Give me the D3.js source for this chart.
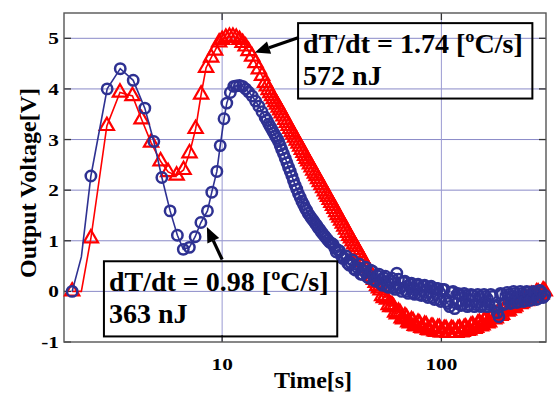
<!DOCTYPE html>
<html>
<head>
<meta charset="utf-8">
<script src="https://cdn.jsdelivr.net/npm/d3@7"></script>
<style>
  html, body { margin: 0; padding: 0; background: #fff; }
  svg { display: block; }
</style>
</head>
<body>
<svg id="chart" width="554" height="396"></svg>
<script>
// ---------------- DATA ----------------
const yTicks = [-1, 0, 1, 2, 3, 4, 5];
const yTickLabels = ["-1", "0", "1", "2", "3", "4", "5"];
const xTicks = [10, 100];
const xTickLabels = ["10", "100"];

// sparse early samples (time [s], output voltage [V])
const blueEarlyTime = [2.07, 2.52, 2.99, 3.43, 3.93, 4.44, 4.88, 5.31, 5.79, 6.25, 6.65, 7.09, 7.53, 8.0, 8.57, 8.97, 9.46, 9.8, 10.2, 10.5, 10.9, 11.3];
const blueEarlyV    = [0.0, 2.28, 4.0, 4.4, 4.17, 3.62, 2.96, 2.25, 1.59, 1.11, 0.83, 0.87, 1.08, 1.36, 1.59, 1.96, 2.37, 2.88, 3.41, 3.72, 3.93, 4.05];
const redEarlyTime  = [2.07, 2.52, 2.98, 3.42, 3.9, 4.29, 4.74, 5.24, 5.67, 6.2, 6.67, 7.1, 7.57, 8.02, 8.45, 8.91, 9.29, 9.69];
const redEarlyV     = [0.0, 1.05, 3.27, 3.93, 3.86, 3.40, 2.94, 2.57, 2.36, 2.29, 2.40, 2.73, 3.21, 3.89, 4.42, 4.62, 4.76, 4.92];

// line-only samples (no marker drawn)
const blueLineOnlyTime = [2.28];
const blueLineOnlyV    = [0.68];
const redLineOnlyTime  = [2.28];
const redLineOnlyV     = [0.0];

// dense samples, set A
const denseTime = [10.0, 10.4, 10.8, 11.2, 11.6, 12.0, 12.4, 12.8, 13.2, 13.7, 14.2, 14.7, 15.2, 15.7, 16.3, 16.9, 17.5, 18.1, 18.7, 19.4,
  20.1, 20.8, 21.5, 22.3, 23.1, 23.9, 24.7, 25.6, 26.5, 27.4, 28.4, 29.4, 30.4, 31.5, 32.6, 33.7, 34.9, 36.1, 37.4, 38.7,
  40, 41.4, 42.9, 44.4, 46, 47.6, 49.3, 51, 52.8, 54.6, 56.5, 58.5, 60.5, 62.6, 64.8, 67, 69.4, 71.8, 74.3, 76.9,
  79.6, 82.4, 85.3, 88.3, 91.4, 94.6, 97.9, 101, 105, 109, 113, 117, 121, 125, 129, 134, 139, 144, 149, 154,
  159, 165, 171, 177, 183, 189, 196, 203, 210, 217, 225, 233, 241, 249, 258, 267, 276, 286, 296];
const redDenseV = [4.97, 5.01, 5.03, 5.03, 5.01, 4.97, 4.91, 4.84, 4.75, 4.64, 4.51, 4.39, 4.26, 4.12, 3.98, 3.86, 3.74, 3.63, 3.52, 3.39,
  3.27, 3.15, 3.04, 2.92, 2.80, 2.68, 2.57, 2.45, 2.33, 2.22, 2.10, 1.98, 1.87, 1.75, 1.63, 1.51, 1.40, 1.28, 1.16, 1.05,
  0.93, 0.82, 0.70, 0.58, 0.46, 0.35, 0.23, 0.11, 0.02, -0.13, -0.16, -0.31, -0.31, -0.45, -0.43, -0.55, -0.52, -0.63, -0.59, -0.69,
  -0.64, -0.73, -0.67, -0.77, -0.70, -0.80, -0.72, -0.81, -0.74, -0.82, -0.75, -0.82, -0.73, -0.80, -0.71, -0.77, -0.67, -0.72, -0.62, -0.67,
  -0.56, -0.61, -0.49, -0.53, -0.41, -0.46, -0.34, -0.38, -0.26, -0.30, -0.19, -0.23, -0.12, -0.16, -0.07, -0.10, -0.02, -0.06, 0.0];
const blueDenseV = [null, null, null, null, 4.06, 4.07, 4.05, 4.00, 3.94, 3.86, 3.76, 3.66, 3.55, 3.44, 3.31, 3.19, 3.07, 2.96, 2.80, 2.63,
  2.45, 2.28, 2.10, 1.93, 1.78, 1.65, 1.54, 1.44, 1.35, 1.26, 1.17, 1.09, 1.01, 0.95, 0.86, 0.82, 0.71, 0.66, 0.55, 0.56,
  0.44, 0.47, 0.34, 0.40, 0.28, 0.42, 0.22, 0.31, 0.16, 0.27, 0.10, 0.22, 0.08, 0.36, 0.06, 0.18, 0.00, 0.14, -0.03, 0.12,
  -0.06, 0.10, -0.08, 0.08, -0.12, 0.06, -0.16, 0.04, -0.20, -0.30, 0.00, -0.24, -0.06, -0.26, -0.08, -0.27, -0.08, -0.26, -0.10, -0.27,
  -0.10, -0.26, -0.10, -0.28, -0.50, -0.06, -0.24, -0.06, -0.22, -0.04, -0.20, -0.04, -0.18, -0.02, -0.16, -0.02, -0.14, -0.02, -0.08];

// dense samples, set B (in between set A, from 16 s on)
const denseTimeB = [16.0, 16.6, 17.2, 17.8, 18.4, 19.05, 19.75,
  20.45, 21.15, 21.9, 22.7, 23.5, 24.3, 25.15, 26.05, 26.95, 27.9, 28.9, 29.9, 30.95, 32.05, 33.15, 34.3, 35.5, 36.75, 38.05, 39.35,
  40.7, 42.15, 43.65, 45.2, 46.8, 48.45, 50.15, 51.9, 53.7, 55.55, 57.5, 59.5, 61.55, 63.7, 65.9, 68.2, 70.6, 73.05, 75.6, 78.25,
  81.0, 83.85, 86.8, 89.85, 93.0, 96.25, 99.45, 103, 107, 111, 115, 119, 123, 127, 131.5, 136.5, 141.5, 146.5, 151.5, 156.5,
  162, 168, 174, 180, 186, 192.5, 199.5, 206.5, 213.5, 221, 229, 237, 245, 253.5, 262.5, 271.5, 281, 291];
const redDenseVB = [4.05, 3.92, 3.80, 3.69, 3.58, 3.46, 3.33,
  3.21, 3.10, 2.98, 2.86, 2.74, 2.62, 2.51, 2.39, 2.28, 2.16, 2.04, 1.92, 1.81, 1.69, 1.57, 1.46, 1.34, 1.22, 1.10, 0.99,
  0.88, 0.76, 0.64, 0.52, 0.40, 0.29, 0.17, 0.06, -0.09, -0.10, -0.27, -0.27, -0.42, -0.40, -0.53, -0.49, -0.61, -0.57, -0.68, -0.62,
  -0.72, -0.66, -0.76, -0.70, -0.79, -0.72, -0.81, -0.74, -0.82, -0.74, -0.82, -0.74, -0.81, -0.72, -0.78, -0.68, -0.74, -0.64, -0.69, -0.58,
  -0.63, -0.51, -0.55, -0.43, -0.48, -0.36, -0.40, -0.28, -0.33, -0.21, -0.25, -0.14, -0.19, -0.08, -0.13, -0.02, -0.08, 0.02];
const blueDenseVB = [3.38, 3.25, 3.13, 3.02, 2.88, 2.72, 2.54,
  2.37, 2.19, 2.02, 1.86, 1.72, 1.60, 1.49, 1.40, 1.31, 1.22, 1.13, 1.05, 0.97, 0.93, 0.78, 0.80, 0.65, 0.70, 0.52, 0.62,
  0.42, 0.54, 0.34, 0.48, 0.26, 0.40, 0.20, 0.34, 0.12, 0.30, 0.08, 0.26, 0.04, 0.24, 0.0, 0.20, -0.04, 0.16, -0.06, 0.14,
  -0.08, 0.12, -0.12, 0.10, -0.16, 0.06, -0.20, 0.04, -0.24, -0.02, -0.34, -0.04, -0.28, -0.04, -0.30, -0.06, -0.30, -0.06, -0.30, -0.06,
  -0.30, -0.06, -0.30, -0.42, -0.04, -0.26, -0.02, -0.24, 0.0, -0.22, 0.0, -0.20, 0.0, -0.18, 0.0, -0.16, 0.02, -0.12];

const ann1Lines = ["dT/dt = 1.74 [ºC/s]", "572 nJ"];
const ann2Lines = ["dT/dt = 0.98 [ºC/s]", "363 nJ"];
// annotation geometry in data units (time, voltage)
const ann1Box = {t0: 22.2, t1: 260, v0: 5.30, v1: 3.81};
const ann2Box = {t0: 2.89, t1: 33.5, v0: 0.595, v1: -0.89};
const ann1Arrow = {from: [22.2, 5.01], to: [14.1, 4.72]};
const ann2Arrow = {from: [10.0, 0.63], to: [8.52, 1.27]};

const blueColor = "#2e3192";
const redColor = "#ff0000";
const FONT = "'Liberation Serif', 'DejaVu Serif', 'Times New Roman', Times, serif";

// ---------------- CHART ----------------
const svg = d3.select("#chart");
const plot = {left: 64, right: 546, top: 13, bottom: 342};
const x = d3.scaleLog().domain([1.9, 300]).range([plot.left, plot.right]);
const y = d3.scaleLinear().domain([-1, 5.5]).range([plot.bottom, plot.top]);

function txt(sel) {
  return sel.attr("font-family", FONT).attr("font-weight", "bold").attr("fill", "#000");
}

// grid lines
const grid = svg.append("g");
grid.selectAll("line.hy").data(yTicks.filter(v => v > -1)).join("line")
  .attr("x1", plot.left).attr("x2", plot.right)
  .attr("y1", d => y(d)).attr("y2", d => y(d))
  .attr("stroke", "#8a8ac8").attr("stroke-width", 1);
grid.selectAll("line.vx").data(xTicks).join("line")
  .attr("x1", d => x(d)).attr("x2", d => x(d))
  .attr("y1", plot.top).attr("y2", plot.bottom)
  .attr("stroke", "#9a9ad2").attr("stroke-width", 1);

// tick marks (inside)
const tickG = svg.append("g").attr("stroke", "#333").attr("stroke-width", 1.3);
yTicks.forEach(v => {
  tickG.append("line").attr("x1", plot.left).attr("x2", plot.left + 7).attr("y1", y(v)).attr("y2", y(v));
  tickG.append("line").attr("x1", plot.right).attr("x2", plot.right - 7).attr("y1", y(v)).attr("y2", y(v));
});
xTicks.forEach(v => {
  tickG.append("line").attr("x1", x(v)).attr("x2", x(v)).attr("y1", plot.top).attr("y2", plot.top + 7);
  tickG.append("line").attr("x1", x(v)).attr("x2", x(v)).attr("y1", plot.bottom).attr("y2", plot.bottom - 7);
});

// frame
svg.append("rect").attr("x", plot.left).attr("y", plot.top)
  .attr("width", plot.right - plot.left).attr("height", plot.bottom - plot.top)
  .attr("fill", "none").attr("stroke", "#555").attr("stroke-width", 1.4);

// tick labels
yTicks.forEach((v, i) => {
  txt(svg.append("g").attr("transform", `translate(${plot.left - 5},${y(v)}) scale(1.25,1)`)
    .append("text")).attr("text-anchor", "end").attr("dy", "0.35em")
    .attr("font-size", 17).text(yTickLabels[i]);
});
xTicks.forEach((v, i) => {
  txt(svg.append("g").attr("transform", `translate(${x(v)},370) scale(1.25,1)`)
    .append("text")).attr("text-anchor", "middle")
    .attr("font-size", 17).text(xTickLabels[i]);
});

// axis titles
txt(svg.append("text")).attr("transform", "translate(36,183) rotate(-90)")
  .attr("text-anchor", "middle").attr("font-size", 24).text("Output Voltage[V]");
txt(svg.append("text")).attr("x", 313).attr("y", 388)
  .attr("text-anchor", "middle").attr("font-size", 24).text("Time[s]");

// series assembly
function build(earlyT, earlyV, sets) {
  const pts = earlyT.map((t, i) => ({t, v: earlyV[i]}));
  sets.forEach(([ts, vs]) => ts.forEach((t, i) => { if (vs[i] !== null) pts.push({t, v: vs[i]}); }));
  return pts.sort((a, b) => a.t - b.t);
}
const bluePts = build(blueEarlyTime, blueEarlyV, [[denseTime, blueDenseV], [denseTimeB, blueDenseVB]]);
const redPts = build(redEarlyTime, redEarlyV, [[denseTime, redDenseV], [denseTimeB, redDenseVB]]);
const blueLine = bluePts.concat(blueLineOnlyTime.map((t, i) => ({t, v: blueLineOnlyV[i]}))).sort((a, b) => a.t - b.t);
const redLine = redPts.concat(redLineOnlyTime.map((t, i) => ({t, v: redLineOnlyV[i]}))).sort((a, b) => a.t - b.t);

const lineGen = d3.line().x(d => x(d.t)).y(d => y(d.v));
const dataG = svg.append("g");

// red series (triangles)
dataG.append("path").datum(redLine).attr("d", lineGen)
  .attr("fill", "none").attr("stroke", redColor).attr("stroke-width", 1.6);
const tri = d3.symbol().type(d3.symbolTriangle).size(88);
dataG.append("g").selectAll("path").data(redPts).join("path")
  .attr("d", tri)
  .attr("transform", d => `translate(${x(d.t)},${y(d.v)})`)
  .attr("fill", "none").attr("stroke", redColor).attr("stroke-width", 2.2);

// blue series (circles)
dataG.append("path").datum(blueLine).attr("d", lineGen)
  .attr("fill", "none").attr("stroke", blueColor).attr("stroke-width", 1.6);
dataG.append("g").selectAll("circle").data(bluePts).join("circle")
  .attr("cx", d => x(d.t)).attr("cy", d => y(d.v)).attr("r", 5.2)
  .attr("fill", "none").attr("stroke", blueColor).attr("stroke-width", 2.5);

// annotations
function annotate(box, lines, arrow) {
  const g = svg.append("g");
  const bx = x(box.t0), by = y(box.v0), bw = x(box.t1) - bx, bh = y(box.v1) - by;
  g.append("rect").attr("x", bx).attr("y", by).attr("width", bw).attr("height", bh)
    .attr("fill", "none").attr("stroke", "#000").attr("stroke-width", 2);
  lines.forEach((s, i) => {
    txt(g.append("text")).attr("x", bx + 5).attr("y", by + 30 + i * 32)
      .attr("font-size", 28).text(s);
  });
  const x1 = x(arrow.from[0]), y1 = y(arrow.from[1]);
  const x2 = x(arrow.to[0]), y2 = y(arrow.to[1]);
  const ang = Math.atan2(y2 - y1, x2 - x1);
  const hl = 15, hw = 6.5;
  const bxp = x2 - hl * Math.cos(ang), byp = y2 - hl * Math.sin(ang);
  g.append("line").attr("x1", x1).attr("y1", y1).attr("x2", bxp).attr("y2", byp)
    .attr("stroke", "#000").attr("stroke-width", 3.2);
  const px = -Math.sin(ang), py = Math.cos(ang);
  g.append("path").attr("d", `M${x2},${y2}L${bxp + hw * px},${byp + hw * py}L${bxp - hw * px},${byp - hw * py}Z`)
    .attr("fill", "#000");
}
annotate(ann1Box, ann1Lines, ann1Arrow);
annotate(ann2Box, ann2Lines, ann2Arrow);
</script>
</body>
</html>
